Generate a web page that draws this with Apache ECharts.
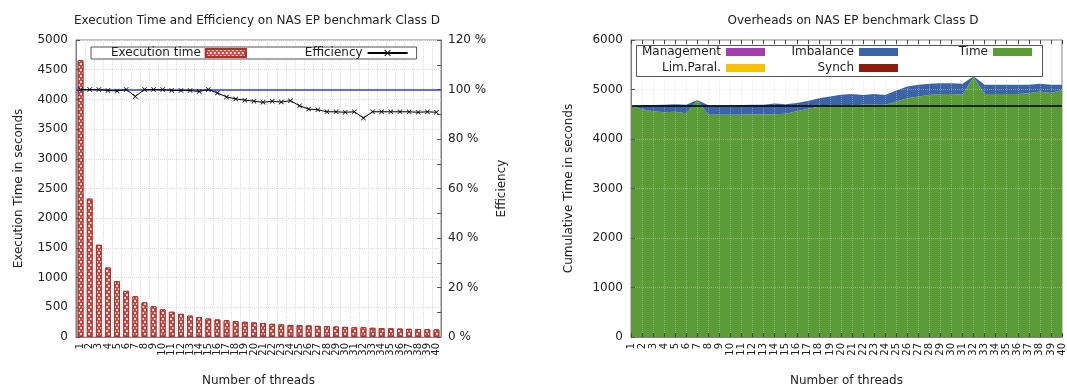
<!DOCTYPE html>
<html>
<head>
<meta charset="utf-8">
<script src="https://cdn.jsdelivr.net/npm/echarts@6/dist/echarts.min.js"></script>
<style>
  html, body { margin: 0; padding: 0; background: #fff; }
  #chart { width: 1067px; height: 392px; }
</style>
</head>
<body>
<div id="chart"></div>
<script>
// Thread counts (x categories shared by both panels)
const threads = ['1','2','3','4','5','6','7','8','9','10',
  '11','12','13','14','15','16','17','18','19','20',
  '21','22','23','24','25','26','27','28','29','30',
  '31','32','33','34','35','36','37','38','39','40'];

// Left panel: execution time (seconds) per thread count
const execTime = [4660, 2330, 1553, 1170, 938, 777, 685, 583, 518, 466,
  425, 390, 360, 336, 311, 295, 283, 269, 256, 245,
  234, 222, 213, 203, 200, 195, 188, 183, 177, 171,
  165, 165, 155, 151, 146, 142, 138, 135, 131, 128];

// Left panel: parallel efficiency (%)
const efficiency = [100, 100, 100, 99.6, 99.4, 100, 97.2, 100, 100, 100,
  99.6, 99.6, 99.6, 99.2, 100, 98.6, 97.0, 96.2, 95.7, 95.3,
  94.8, 95.3, 94.9, 95.5, 93.4, 92.1, 91.8, 91.0, 91.0, 90.8,
  91.0, 88.5, 91.0, 91.0, 91.0, 91.0, 91.0, 90.8, 91.0, 90.8];

// Right panel: cumulative time components (seconds)
const timeCum = [4670, 4600, 4560, 4540, 4550, 4520, 4780, 4490, 4490, 4490,
  4490, 4500, 4495, 4500, 4510, 4560, 4610, 4650, 4670, 4670,
  4680, 4690, 4690, 4690, 4760, 4825, 4860, 4890, 4910, 4910,
  4895, 5255, 4910, 4910, 4910, 4910, 4925, 4960, 4930, 4990];
const imbalance = [0, 85, 125, 150, 150, 170, 10, 190, 190, 190,
  195, 190, 195, 215, 190, 165, 160, 175, 190, 225,
  230, 200, 220, 200, 220, 235, 235, 225, 215, 215,
  220, 15, 185, 185, 185, 185, 170, 155, 165, 105];
const management = [0,0,0,0,0,0,0,0,0,0, 0,0,0,0,0,0,0,0,0,0,
  0,0,0,0,0,0,0,0,0,0, 0,0,0,0,0,0,0,0,0,0];
const limParal = [0,0,0,0,0,0,0,0,0,0, 0,0,0,0,0,0,0,0,0,0,
  0,0,0,0,0,0,0,0,0,0, 0,0,0,0,0,0,0,0,0,0];
const synch = [0,0,0,0,0,0,0,0,0,0, 0,0,0,0,0,0,0,0,0,0,
  0,0,0,0,0,0,0,0,0,0, 0,0,0,0,0,0,0,0,0,0];

// Sequential reference time and ideal efficiency
const seqTime = 4670;
const idealEff = 100;

const FONT = 'DejaVu Sans';
const TXT = '#222';
const AXC = '#808080';
const GRIDC = '#dcdcdc';
const IDEAL_BLUE = '#3434f4';

const xMark = 'path://M0,1L1,0L5,4L9,0L10,1L6,5L10,9L9,10L5,6L1,10L0,9L4,5Z';
const plainNum = v => String(v);

const chart = echarts.init(document.getElementById('chart'), null, { renderer: 'canvas' });

const valueAxisBase = {
  type: 'value',
  axisLine: { show: true, lineStyle: { color: AXC } },
  axisTick: { show: true, inside: true, length: 4, lineStyle: { color: '#555' } },
  axisLabel: { fontSize: 12, color: TXT, fontFamily: FONT, margin: 8, formatter: plainNum },
  nameLocation: 'middle',
  nameTextStyle: { fontSize: 12, color: TXT, fontFamily: FONT }
};

// One single-item legend per key of the overhead panel, so every swatch
// sits in a fixed column with its text right-aligned before it.
function keyLegend(name, right, top) {
  return {
    data: [name], right: right, top: top, orient: 'horizontal', align: 'right', icon: 'rect',
    itemWidth: 39, itemHeight: 8, padding: 0,
    textStyle: { fontSize: 12, color: TXT, fontFamily: FONT },
    z: 10
  };
}

const option = {
  animation: false,
  backgroundColor: '#fff',
  textStyle: { fontFamily: FONT, color: TXT },
  title: [
    {
      text: 'Execution Time and Efficiency on NAS EP benchmark Class D',
      left: 252, top: 10, textAlign: 'center',
      textStyle: { fontSize: 12, fontWeight: 'normal', color: TXT, fontFamily: FONT }
    },
    {
      text: 'Overheads on NAS EP benchmark Class D',
      left: 848, top: 10, textAlign: 'center',
      textStyle: { fontSize: 12, fontWeight: 'normal', color: TXT, fontFamily: FONT }
    }
  ],
  grid: [
    { left: 76, right: 626, top: 40, bottom: 54, show: true, borderColor: AXC, borderWidth: 1, backgroundColor: 'transparent' },
    { left: 631, right: 5, top: 40, bottom: 54, show: true, borderColor: AXC, borderWidth: 1, backgroundColor: 'transparent' }
  ],
  legend: [
    {
      data: [{ name: 'Execution time', icon: 'rect' }, { name: 'Efficiency' }],
      left: 91, top: 47, orient: 'horizontal', align: 'right',
      itemWidth: 40, itemHeight: 8, itemGap: 58,
      padding: [0, 8, 0, 20],
      borderColor: '#555', borderWidth: 1, backgroundColor: '#fff',
      textStyle: { fontSize: 12, color: TXT, fontFamily: FONT },
      z: 10
    },
    keyLegend('Management', 302, 46),
    keyLegend('Imbalance', 169, 46),
    keyLegend('Time', 35, 46),
    keyLegend('Lim.Paral.', 302, 62),
    keyLegend('Synch', 169, 62)
  ],
  graphic: [
    {
      type: 'rect', left: 636, top: 45, z: 9,
      shape: { width: 406, height: 31 },
      style: { fill: '#fff', stroke: '#555', lineWidth: 1 }
    }
  ],
  xAxis: [
    {
      type: 'category', gridIndex: 0, data: threads, boundaryGap: true,
      axisLine: { lineStyle: { color: AXC } },
      axisTick: { inside: true, alignWithLabel: true, length: 3, interval: 0, lineStyle: { color: '#555' } },
      axisLabel: { rotate: 90, interval: 0, fontSize: 10, color: TXT, fontFamily: FONT, margin: 6 },
      splitLine: { show: true, interval: 0, lineStyle: { color: GRIDC, type: 'dotted' } },
      name: 'Number of threads', nameLocation: 'middle', nameGap: 38,
      nameTextStyle: { fontSize: 12, color: TXT, fontFamily: FONT }
    },
    {
      type: 'category', gridIndex: 1, data: threads, boundaryGap: false, z: 5,
      axisLine: { lineStyle: { color: AXC } },
      axisTick: { inside: true, length: 4, interval: 0, lineStyle: { color: '#444' } },
      axisLabel: { rotate: 90, interval: 0, fontSize: 10, color: TXT, fontFamily: FONT, margin: 6 },
      splitLine: { show: true, interval: 0, lineStyle: { color: 'rgba(215,215,215,0.45)', type: 'dotted' } },
      name: 'Number of threads', nameLocation: 'middle', nameGap: 38,
      nameTextStyle: { fontSize: 12, color: TXT, fontFamily: FONT }
    },
    {
      type: 'category', gridIndex: 1, data: threads, boundaryGap: false, position: 'top', z: 5,
      axisLine: { show: false },
      axisTick: { inside: true, length: 4, interval: 0, lineStyle: { color: '#444' } },
      axisLabel: { show: false },
      splitLine: { show: false }
    }
  ],
  yAxis: [
    Object.assign({}, valueAxisBase, {
      gridIndex: 0, min: 0, max: 5000, interval: 500, position: 'left',
      splitLine: { show: true, lineStyle: { color: GRIDC, type: 'dotted' } },
      name: 'Execution Time in seconds', nameGap: 51
    }),
    Object.assign({}, valueAxisBase, {
      gridIndex: 0, min: 0, max: 120, interval: 20, position: 'right',
      minorTick: { show: true, splitNumber: 2, length: 4, lineStyle: { color: '#555' } },
      axisLabel: { fontSize: 12, color: TXT, fontFamily: FONT, margin: 7, formatter: '{value} %' },
      splitLine: { show: false },
      name: 'Efficiency', nameGap: 55
    }),
    Object.assign({}, valueAxisBase, {
      gridIndex: 1, min: 0, max: 6000, interval: 1000, position: 'left', z: 5,
      splitLine: { show: true, lineStyle: { color: 'rgba(215,215,215,0.45)', type: 'dotted' } },
      name: 'Cumulative Time in seconds', nameGap: 56
    })
  ],
  series: [
    {
      name: 'Execution time', type: 'bar', xAxisIndex: 0, yAxisIndex: 0,
      data: execTime, barWidth: '64%',
      itemStyle: {
        color: '#cc4a44', borderColor: '#a9322d', borderWidth: 1,
        decal: {
          symbol: 'rect', symbolSize: 1, color: 'rgba(255,255,255,0.8)',
          dashArrayX: [[2, 2], [0, 2, 2, 0]], dashArrayY: [2, 1]
        }
      }
    },
    {
      name: 'Efficiency', type: 'line', xAxisIndex: 0, yAxisIndex: 1,
      data: efficiency, symbol: xMark, symbolSize: 5, z: 6,
      lineStyle: { color: '#000', width: 1 },
      itemStyle: { color: '#000' },
      markLine: {
        symbol: ['none', 'none'], label: { show: false },
        lineStyle: { color: IDEAL_BLUE, width: 1.5, type: 'solid' },
        data: [{ yAxis: idealEff }]
      }
    },
    {
      name: 'Time', type: 'line', xAxisIndex: 1, yAxisIndex: 2, stack: 'ovh',
      data: timeCum, symbol: 'none',
      lineStyle: { width: 0 },
      itemStyle: { color: '#5a9b35' },
      areaStyle: { color: '#5a9b35', opacity: 1 },
      markLine: {
        symbol: ['none', 'none'], label: { show: false },
        lineStyle: { color: '#000', width: 1.5, type: 'solid' },
        data: [{ yAxis: seqTime }]
      }
    },
    {
      name: 'Imbalance', type: 'line', xAxisIndex: 1, yAxisIndex: 2, stack: 'ovh',
      data: imbalance, symbol: 'none',
      lineStyle: { width: 0 },
      itemStyle: { color: '#3b64a8' },
      areaStyle: { color: '#3b64a8', opacity: 1 }
    },
    {
      name: 'Management', type: 'line', xAxisIndex: 1, yAxisIndex: 2, stack: 'ovh',
      data: management, symbol: 'none',
      lineStyle: { width: 0 },
      itemStyle: { color: '#a43dae' },
      areaStyle: { color: '#a43dae', opacity: 1 }
    },
    {
      name: 'Lim.Paral.', type: 'line', xAxisIndex: 1, yAxisIndex: 2, stack: 'ovh',
      data: limParal, symbol: 'none',
      lineStyle: { width: 0 },
      itemStyle: { color: '#f7c200' },
      areaStyle: { color: '#f7c200', opacity: 1 }
    },
    {
      name: 'Synch', type: 'line', xAxisIndex: 1, yAxisIndex: 2, stack: 'ovh',
      data: synch, symbol: 'none',
      lineStyle: { width: 0 },
      itemStyle: { color: '#8d1c10' },
      areaStyle: { color: '#8d1c10', opacity: 1 }
    }
  ]
};

chart.setOption(option);
</script>
</body>
</html>
